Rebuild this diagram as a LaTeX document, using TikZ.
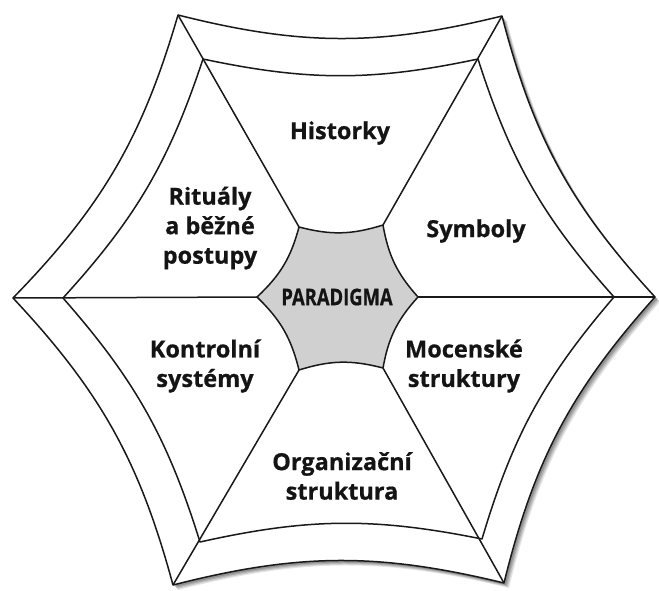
\documentclass[tikz,border=0pt]{standalone}
\usepackage{fontspec}
\setmainfont{Open Sans}[BoldFeatures={FakeBold=0.6}]
\newfontfamily\condfont{Open Sans}[FakeStretch=0.8,BoldFeatures={FakeBold=0.6}]
\definecolor{centergray}{HTML}{D0D0D0}
\begin{document}
\begin{tikzpicture}[x=1pt,y=-1pt,line join=round,
  edge/.style={line width=1.5pt,draw=black!90},
  lbl/.style={font=\bfseries\fontsize{23.5}{29.5}\selectfont,align=center,text=black!92,inner sep=0pt},
  ob/.style={bend right=14},
  ib/.style={bend right=12},
  cb/.style={bend right=16}]
\useasboundingbox (0,0) rectangle (659,590);
% outer vertices
\coordinate (o1) at (178,15);
\coordinate (o2) at (502,16);
\coordinate (o3) at (655,297);
\coordinate (o4) at (504,583);
\coordinate (o5) at (173,585);
\coordinate (o6) at (13,298);
% inner vertices
\coordinate (i1) at (203,59);
\coordinate (i2) at (478,59);
\coordinate (i3) at (614,297);
\coordinate (i4) at (482,539);
\coordinate (i5) at (200,542);
\coordinate (i6) at (63,298);
% centre vertices
\coordinate (c1) at (299,227);
\coordinate (c2) at (383,225);
\coordinate (c3) at (418,297);
\coordinate (c4) at (383,368);
\coordinate (c5) at (299,370);
\coordinate (c6) at (257,297);
% shadow
\foreach \s/\op in {5/0.10,4/0.12,3/0.14,2/0.16}{
  \begin{scope}[transform canvas={shift={(\s pt,-\s pt)}}]
    \fill[black,opacity=\op] (o1) to[ob] (o2) to[ob] (o3) to[ob] (o4) to[ob] (o5) to[ob] (o6) to[ob] (o1) -- cycle;
  \end{scope}
}
% outer shape
\filldraw[edge,fill=white] (o1) to[ob] (o2) to[ob] (o3) to[ob] (o4) to[ob] (o5) to[ob] (o6) to[ob] (o1) -- cycle;
% inner shape
\draw[edge] (i1) to[ib] (i2) to[ib] (i3) to[ib] (i4) to[ib] (i5) to[ib] (i6) to[ib] (i1) -- cycle;
% spokes
\foreach \k in {1,...,6}{
  \draw[edge] (c\k) -- (o\k);
}
% centre
\filldraw[edge,fill=centergray] (c1) to[cb] (c2) to[cb] (c3) to[cb] (c4) to[cb] (c5) to[cb] (c6) to[cb] (c1) -- cycle;
% labels
\node[lbl] (hist) at (340,133) {Historky};
\node[lbl] (symb) at (476,231) {Symboly};
\node[lbl] (rit) at (210,228) {Rituály\\a běžné\\postupy};
\node[lbl] (kont) at (205,366) {Kontrolní\\systémy};
\node[lbl] (moc) at (464,366) {Mocenské\\struktury};
\node[lbl] (org) at (342,476) {Organizační\\struktura};
\node[font=\condfont\bfseries\fontsize{23}{26}\selectfont,text=black!92,inner sep=0pt] (par) at (337,297) {PARADIGMA};
\end{tikzpicture}
\end{document}
